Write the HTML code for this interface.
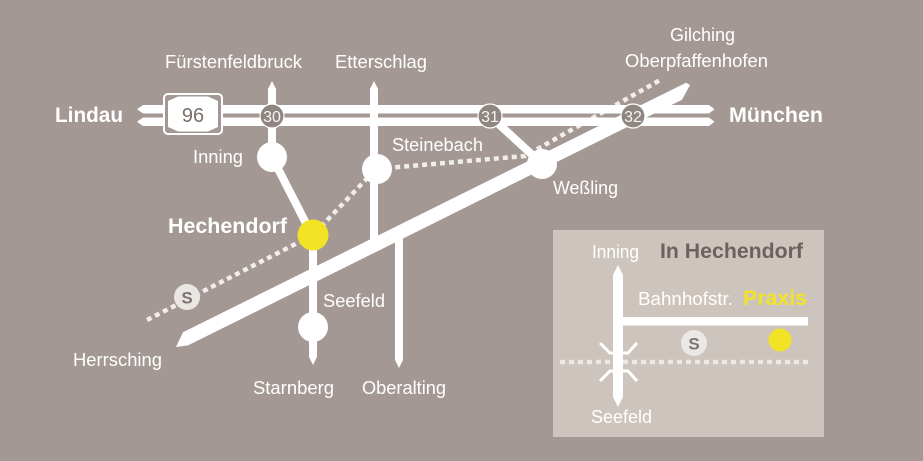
<!DOCTYPE html>
<html><head><meta charset="utf-8"><style>
html,body{margin:0;padding:0;background:#a39894;}
svg{display:block;}
text{font-family:"Liberation Sans",Arial,sans-serif;}
</style></head><body>
<svg width="923" height="461" viewBox="0 0 923 461" xmlns="http://www.w3.org/2000/svg">
<rect x="0" y="0" width="923" height="461" fill="#a39894"/>

<!-- dotted S-Bahn line -->
<polyline points="147,320 313,235 376,169 525,156 662,79" fill="none" stroke="#f0edeb" stroke-width="4.5" stroke-dasharray="5 4"/>

<!-- highway bars -->
<polygon points="143,105 137,109.25 143,113.5 709,113.5 714.5,109.25 709,105" fill="#fff"/>
<polygon points="143,117.5 137,121.75 143,126 709,126 714.5,121.75 709,117.5" fill="#fff"/>

<!-- vertical roads -->
<polygon points="268,157 268,89 272,81 276,89 276,157" fill="#fff"/>
<polygon points="370,245 370,89 374,81 378,89 378,245" fill="#fff"/>
<line x1="272" y1="157" x2="312" y2="235" stroke="#fff" stroke-width="8"/>
<polygon points="309,235 309,357 313,365 317,357 317,235" fill="#fff"/>
<polygon points="395,236 395,360 399,368 403,360 403,236" fill="#fff"/>
<line x1="490" y1="116" x2="542" y2="164" stroke="#fff" stroke-width="8"/>

<!-- diagonal main road -->
<polygon points="183,332.2 686,82.7 690,85 682,99.8 188,345.4 176,347" fill="#fff"/>

<!-- badge 96 -->
<rect x="164" y="94" width="58" height="40" rx="4" ry="4" fill="#a39894" stroke="#fff" stroke-width="2"/>
<polygon points="168,101 178,96.5 208,96.5 218,101 218,127 208,131.5 178,131.5 168,127" fill="#fff"/>
<text x="193" y="122" font-size="20" fill="#7a706c" text-anchor="middle">96</text>

<!-- number circles -->
<circle cx="272" cy="116" r="12" fill="#8f8581" stroke="#fff" stroke-width="1.2"/>
<text x="272" y="122" font-size="16" fill="#f6f4f2" text-anchor="middle">30</text>
<circle cx="490" cy="116" r="12" fill="#8f8581" stroke="#fff" stroke-width="1.2"/>
<text x="490" y="122" font-size="16" fill="#f6f4f2" text-anchor="middle">31</text>
<circle cx="633" cy="116" r="12" fill="#8f8581" stroke="#fff" stroke-width="1.2"/>
<text x="633" y="122" font-size="16" fill="#f6f4f2" text-anchor="middle">32</text>

<!-- stations -->
<circle cx="272" cy="157" r="15" fill="#fff"/>
<circle cx="377" cy="169" r="15" fill="#fff"/>
<circle cx="542" cy="164" r="15" fill="#fff"/>
<circle cx="313" cy="327" r="15" fill="#fff"/>
<circle cx="313" cy="235" r="15.5" fill="#f2e424"/>

<!-- S circle -->
<circle cx="187" cy="297" r="13" fill="#e9e6e4"/>
<text x="187" y="303.5" font-size="17" font-weight="bold" fill="#7d7471" text-anchor="middle">S</text>

<!-- labels -->
<g fill="#fff" font-size="18">
<text x="165" y="68" textLength="137" lengthAdjust="spacingAndGlyphs">Fürstenfeldbruck</text>
<text x="335" y="68" textLength="92" lengthAdjust="spacingAndGlyphs">Etterschlag</text>
<text x="670" y="41" textLength="65" lengthAdjust="spacingAndGlyphs">Gilching</text>
<text x="625" y="67" textLength="143" lengthAdjust="spacingAndGlyphs">Oberpfaffenhofen</text>
<text x="193" y="163" textLength="50" lengthAdjust="spacingAndGlyphs">Inning</text>
<text x="392" y="151" textLength="91" lengthAdjust="spacingAndGlyphs">Steinebach</text>
<text x="553" y="194" textLength="65" lengthAdjust="spacingAndGlyphs">Weßling</text>
<text x="323" y="307" textLength="62" lengthAdjust="spacingAndGlyphs">Seefeld</text>
<text x="73" y="366" textLength="89" lengthAdjust="spacingAndGlyphs">Herrsching</text>
<text x="253" y="394" textLength="81" lengthAdjust="spacingAndGlyphs">Starnberg</text>
<text x="362" y="394" textLength="84" lengthAdjust="spacingAndGlyphs">Oberalting</text>
</g>
<g fill="#fff" font-size="21" font-weight="bold">
<text x="55" y="122" textLength="68" lengthAdjust="spacingAndGlyphs">Lindau</text>
<text x="729" y="122" textLength="94" lengthAdjust="spacingAndGlyphs">München</text>
<text x="168" y="233" textLength="119" lengthAdjust="spacingAndGlyphs">Hechendorf</text>
</g>

<!-- inset -->
<rect x="553" y="230" width="271" height="207" fill="#ccc4bd"/>
<line x1="560" y1="362" x2="808" y2="362" stroke="#ebe8e5" stroke-width="4.5" stroke-dasharray="5 4"/>
<polygon points="613,275 618,265 623,275 623,397 618,407 613,397" fill="#fff"/>
<rect x="618" y="317" width="190" height="8.5" fill="#fff"/>
<polyline points="600,343 610,353 628,353 637,343" fill="none" stroke="#fff" stroke-width="3"/>
<polyline points="600,381 610,371 628,371 637,381" fill="none" stroke="#fff" stroke-width="3"/>
<circle cx="694" cy="343" r="13" fill="#eae7e5"/>
<text x="694" y="349.5" font-size="17" font-weight="bold" fill="#7d7471" text-anchor="middle">S</text>
<circle cx="780" cy="340" r="11.5" fill="#f2e424"/>
<text x="660" y="258" font-size="21" font-weight="bold" fill="#6c6360" textLength="143" lengthAdjust="spacingAndGlyphs">In Hechendorf</text>
<text x="743" y="305" font-size="21" font-weight="bold" fill="#f2e424" textLength="64" lengthAdjust="spacingAndGlyphs">Praxis</text>
<g fill="#fff" font-size="18">
<text x="592" y="258" textLength="47" lengthAdjust="spacingAndGlyphs">Inning</text>
<text x="638" y="305" textLength="95" lengthAdjust="spacingAndGlyphs">Bahnhofstr.</text>
<text x="591" y="423" textLength="61" lengthAdjust="spacingAndGlyphs">Seefeld</text>
</g>
</svg>
</body></html>
